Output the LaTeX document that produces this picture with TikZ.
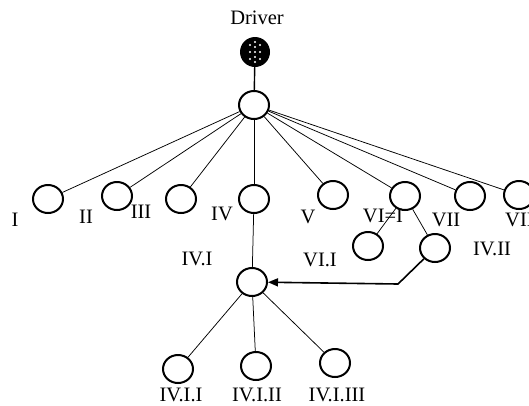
\documentclass[tikz,border=0pt]{standalone}
\usepackage{fontspec}
\setmainfont{Liberation Serif}
\usetikzlibrary{shapes.geometric,arrows.meta,calc}
\begin{document}
\begin{tikzpicture}[x=1pt,y=-1pt,
  vertex/.style={ellipse,draw=black,line width=2pt,minimum width=30pt,minimum height=28pt,inner sep=0pt},
  link/.style={line width=0.75pt},
  lbl/.style={anchor=base,inner sep=0pt,font=\fontsize{20.5}{24}\selectfont}]
\useasboundingbox (0,0) rectangle (529,405);

% driver node with its dotted pattern
\node[lbl] (drvlabel) at (257,24) {Driver};
\node[circle,fill=black,minimum size=30pt,inner sep=0pt] (drv) at (255,52) {};
\foreach \dx/\dy in {0/-10,0/-5,0/0,0/5,0/10,-5/-7,-5/0,-5/7,5/-7,5/0,5/7}
  \fill[white] ($(drv.center)+(\dx,\dy)$) circle (1.1pt);

% tree nodes
\node[vertex] (root) at (254,105) {};
\node[vertex] (n1) at (48,199) {};
\node[vertex] (n2) at (117,196) {};
\node[vertex] (n3) at (181,199) {};
\node[vertex] (n4) at (254,199) {};
\node[vertex] (n5) at (333,195) {};
\node[vertex] (n6) at (405,196) {};
\node[vertex] (n7) at (470,196) {};
\node[vertex] (n8) at (519,195) {};
\node[vertex] (n61) at (368,246) {};
\node[vertex] (n42) at (435,248) {};
\node[vertex] (n41) at (252,282) {};
\node[vertex] (n411) at (178,369) {};
\node[vertex] (n412) at (256,366) {};
\node[vertex] (n413) at (335,363) {};

% labels
\node[lbl] (l1) at (15,226) {I};
\node[lbl] (l2) at (86,223) {II};
\node[lbl] (l3) at (141,218) {III};
\node[lbl] (l4) at (222,220) {IV};
\node[lbl] (l5) at (308,223) {V};
\node[lbl] (l6) at (383,222) {VI=I};
\node[lbl] (l7) at (446,226) {VII};
\node[lbl,anchor=base west] (l8) at (505,226) {VIII};
\node[lbl] (l61) at (320,266) {VI.I};
\node[lbl] (l42) at (492,255) {IV.II};
\node[lbl] (l41) at (197,265) {IV.I};
\node[lbl] (l411) at (181,401) {IV.I.I};
\node[lbl] (l412) at (257,401) {IV.I.II};
\node[lbl] (l413) at (337,401) {IV.I.III};

% connectors
\draw[line width=1.4pt] (drv) -- (root);
\foreach \c in {n1,n2,n3,n4,n5,n6,n7,n8}
  \draw[link] (root) -- (\c);
\draw[link] (n4) -- (n41);
\draw[link] (n6) -- (n61);
\draw[link] (n6) -- (n42);
\foreach \c in {n411,n412,n413}
  \draw[link] (n41) -- (\c);

\coordinate (bend) at (398,284);
\draw[line width=1.6pt,-{Triangle[length=10pt,width=8pt]}] (n42) -- (bend) -- (n41);
\end{tikzpicture}
\end{document}
